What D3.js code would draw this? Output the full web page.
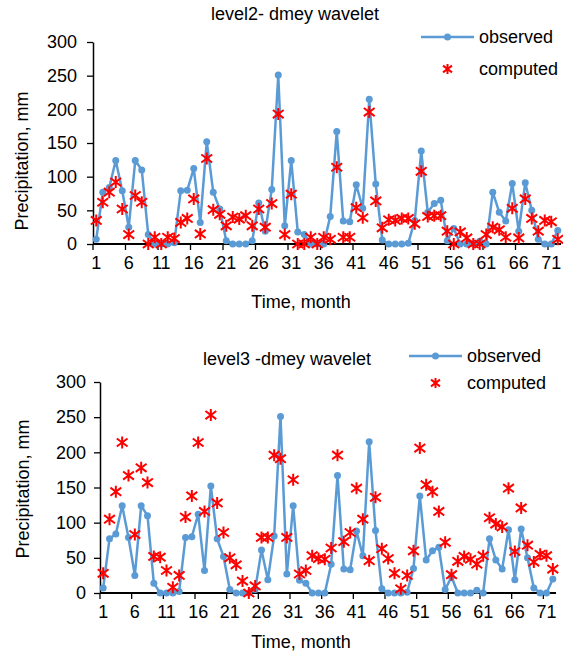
<!DOCTYPE html>
<html>
<head>
<meta charset="utf-8">
<script src="https://cdn.jsdelivr.net/npm/d3@7"></script>
<style>
  body { margin: 0; background: #fff; }
  svg text { font-family: "Liberation Sans", Arial, sans-serif; fill: #000; }
</style>
</head>
<body>
<div id="chart"></div>
<script>
// months 1..72
var months = d3.range(1, 73);
var xTickLabels = [1, 6, 11, 16, 21, 26, 31, 36, 41, 46, 51, 56, 61, 66, 71];
var yTickLabels = [0, 50, 100, 150, 200, 250, 300];

var observed = [7,77,84,124,79,25,124,110,14,0, 0,0,2,79,80,112,32,152,77,52,
	5,0,0,0,5,61,19,81,251,27, 124,18,14,0,0,0,41,167,34,33,
	88,53,215,89,6,0,0,0,1,35, 138,47,60,65,5,23,0,0,0,4,
	0,77,47,34,90,19,91,50,7,0, 0,20];

var computedLevel2 = [35,62,77,92,52,14,72,62,0,10, 0,10,8,32,38,67,15,127,51,44,
	27,40,37,42,27,52,25,60,193,14, 74,0,0,10,0,10,7,114,10,10,
	54,39,196,64,24,36,35,38,38,30, 108,41,42,42,19,0,18,9,0,0,
	14,25,21,10,53,9,67,38,19,35, 33,7];

var computedLevel3 = [28,105,144,214,167,83,178,157,52,51, 32,8,25,108,138,214,116,253,128,86,
	50,40,17,0,10,79,79,196,191,79, 161,27,32,53,49,48,64,196,73,86,
	149,105,46,136,63,49,28,6,25,60, 206,154,144,116,72,26,45,52,48,41,
	53,107,98,94,149,59,121,68,44,55, 53,34];

var obsColor = "#5B9BD5",
	compColor = "#FF0000";

var svg = d3.select("#chart").append("svg")
	.attr("width", 563)
	.attr("height", 655);

// excel "star" marker: an X with a vertical bar through it
function starPath(s){
	var d = s * 0.9;
	return "M0," + (-s) + "L0," + s +
		"M" + (-d) + "," + (-d * 0.75) + "L" + d + "," + (d * 0.75) +
		"M" + (-d) + "," + (d * 0.75) + "L" + d + "," + (-d * 0.75);
}

function drawPanel(p){
	var g = svg.append("g");

	var x = d3.scaleBand().domain(months).range([p.left, p.right]).padding(0);
	var y = d3.scaleLinear().domain([0, 300]).range([p.bottom, p.top]);
	var bw = x.bandwidth();

	// title
	g.append("text")
		.attr("x", p.titleX)
		.attr("y", p.titleY)
		.attr("text-anchor", "middle")
		.style("font-size", "18px")
		.text(p.title);

	// y axis
	var yAxis = g.append("g")
		.attr("transform", "translate(" + p.left + ",0)")
		.call(d3.axisLeft(y).tickValues(yTickLabels).tickSize(6).tickSizeOuter(0).tickPadding(p.yPad));
	yAxis.select(".domain").attr("stroke", "#000").attr("stroke-width", 1.5);
	yAxis.selectAll(".tick line").attr("stroke", "#000").attr("stroke-width", 1.3);
	yAxis.selectAll("text").style("font-size", "18px").attr("fill", "#000");

	// x axis: labels centred on months, tick marks on band edges
	var xAxis = g.append("g")
		.attr("transform", "translate(0," + p.bottom + ")")
		.call(d3.axisBottom(x).tickValues(xTickLabels).tickSize(0).tickSizeOuter(0).tickPadding(p.xPad));
	xAxis.select(".domain").remove();
	xAxis.selectAll("text").style("font-size", "18px").attr("fill", "#000");

	g.append("g").selectAll("line")
		.data(xTickLabels).enter()
		.append("line")
		.attr("x1", function(d){ return x(d); })
		.attr("x2", function(d){ return x(d); })
		.attr("y1", p.bottom)
		.attr("y2", p.bottom + 6)
		.attr("stroke", "#000")
		.attr("stroke-width", 1.3);

	g.append("line")
		.attr("x1", p.left)
		.attr("x2", p.right)
		.attr("y1", p.bottom)
		.attr("y2", p.bottom)
		.attr("stroke", "#000")
		.attr("stroke-width", 2);

	// axis titles
	g.append("text")
		.attr("transform", "translate(" + p.yTitleX + "," + p.yTitleY + ") rotate(-90)")
		.attr("text-anchor", "middle")
		.style("font-size", "18px")
		.text("Precipitation, mm");

	g.append("text")
		.attr("x", p.xTitleX)
		.attr("y", p.xTitleY)
		.attr("text-anchor", "middle")
		.style("font-size", "18px")
		.text("Time, month");

	// observed line + dots
	var line = d3.line()
		.x(function(d, i){ return x(months[i]) + bw / 2; })
		.y(function(d){ return y(d); });

	g.append("path")
		.datum(observed)
		.attr("d", line)
		.attr("fill", "none")
		.attr("stroke", obsColor)
		.attr("stroke-width", 2.5)
		.attr("stroke-linejoin", "round");

	g.selectAll(".obs")
		.data(observed).enter()
		.append("circle")
		.attr("class", "obs")
		.attr("cx", function(d, i){ return x(months[i]) + bw / 2; })
		.attr("cy", function(d){ return y(d); })
		.attr("r", 3.5)
		.attr("fill", obsColor);

	// computed stars
	g.selectAll(".comp")
		.data(p.computed).enter()
		.append("path")
		.attr("class", "comp")
		.attr("transform", function(d, i){ return "translate(" + (x(months[i]) + bw / 2) + "," + y(d) + ")"; })
		.attr("d", starPath(6))
		.attr("fill", "none")
		.attr("stroke", compColor)
		.attr("stroke-width", 2);

	// legend
	var lg = g.append("g");
	lg.append("line")
		.attr("x1", p.legX).attr("x2", p.legX + 53)
		.attr("y1", p.legY).attr("y2", p.legY)
		.attr("stroke", obsColor).attr("stroke-width", 2.5);
	lg.append("circle")
		.attr("cx", p.legX + 26.5).attr("cy", p.legY)
		.attr("r", 3.5).attr("fill", obsColor);
	lg.append("text")
		.attr("x", p.legX + 58).attr("y", p.legY + 6)
		.style("font-size", "18px")
		.text("observed");
	lg.append("path")
		.attr("transform", "translate(" + (p.legX + 26.5) + "," + (p.legY + p.legGap) + ")")
		.attr("d", starPath(5))
		.attr("fill", "none")
		.attr("stroke", compColor)
		.attr("stroke-width", 2);
	lg.append("text")
		.attr("x", p.legX + 58).attr("y", p.legY + p.legGap + 6)
		.style("font-size", "18px")
		.text("computed");
}

drawPanel({
	title: "level2- dmey wavelet",
	computed: computedLevel2,
	left: 93, right: 561, top: 42, bottom: 244,
	titleX: 295, titleY: 20,
	yTitleX: 28, yTitleY: 161,
	xTitleX: 301, xTitleY: 308,
	xPad: 12, yPad: 10,
	legX: 421, legY: 37, legGap: 32
});

drawPanel({
	title: "level3 -dmey wavelet",
	computed: computedLevel3,
	left: 100, right: 556, top: 382, bottom: 593,
	titleX: 287, titleY: 365,
	yTitleX: 29, yTitleY: 489,
	xTitleX: 301, xTitleY: 648,
	xPad: 12, yPad: 8,
	legX: 409, legY: 356, legGap: 27
});
</script>
</body>
</html>
